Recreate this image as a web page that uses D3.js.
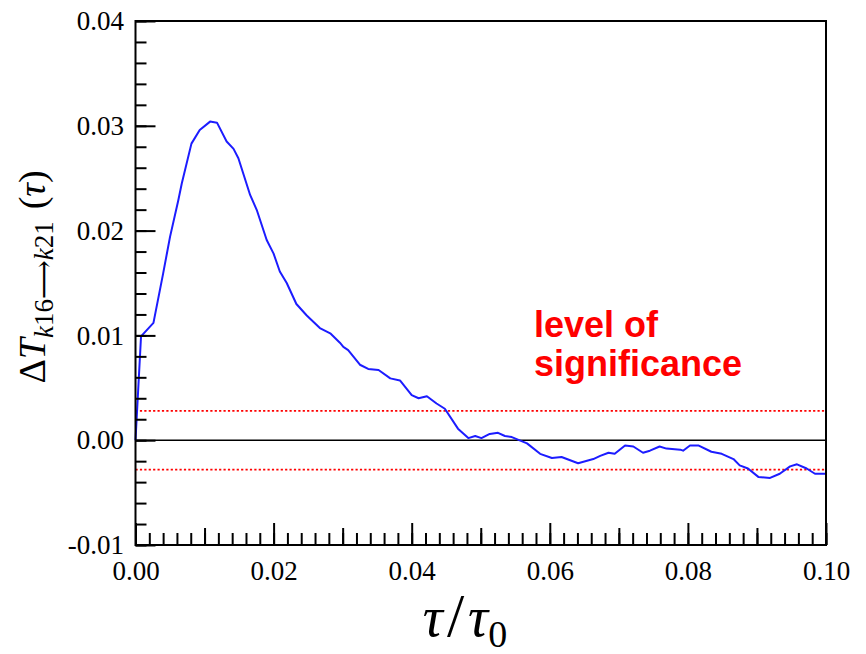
<!DOCTYPE html>
<html>
<head>
<meta charset="utf-8">
<script src="https://cdn.jsdelivr.net/npm/d3@7"></script>
<style>
  html, body { margin: 0; padding: 0; background: #fff; }
  svg { display: block; }
</style>
</head>
<body>
<svg id="chart" width="866" height="654"></svg>
<script>
// Transfer entropy difference vs normalised lag
const tau = [0, 0.0008, 0.0026, 0.0040, 0.0050, 0.0062, 0.0067, 0.0081, 0.0093, 0.0108, 0.0118,
  0.0132, 0.0142, 0.0149, 0.0166, 0.0176, 0.0190, 0.0200, 0.0209, 0.0219, 0.0233, 0.0248,
  0.0267, 0.0282, 0.0296, 0.0301, 0.0308, 0.0325, 0.0337, 0.0352, 0.0369, 0.0383, 0.0400,
  0.0410, 0.0422, 0.0436, 0.0448, 0.0467, 0.0482, 0.0492, 0.0501, 0.0513, 0.0525, 0.0535,
  0.0545, 0.0567, 0.0586, 0.0603, 0.0617, 0.0641, 0.0663, 0.0673, 0.0685, 0.0694, 0.0709,
  0.0721, 0.0735, 0.0745, 0.0759, 0.0769, 0.0789, 0.0793, 0.0803, 0.0815, 0.0834, 0.0849,
  0.0866, 0.0875, 0.0887, 0.0902, 0.0919, 0.0933, 0.0948, 0.0958, 0.0972, 0.0984, 0.1000];
const deltaT = [0, 0.0099, 0.0112, 0.0159, 0.0194, 0.0229, 0.0245, 0.0283, 0.0296, 0.0304, 0.0303,
  0.0285, 0.0278, 0.0269, 0.0234, 0.0219, 0.0191, 0.0178, 0.0161, 0.0150, 0.0130, 0.0119,
  0.0107, 0.0102, 0.0093, 0.0089, 0.0086, 0.0072, 0.0068, 0.0067, 0.0059, 0.0057, 0.0043,
  0.0040, 0.0042, 0.0035, 0.0030, 0.0011, 0.0002, 0.0004, 0.0002, 0.0006, 0.0007, 0.0004,
  0.0003, -0.0003, -0.0013, -0.0017, -0.0016, -0.0022, -0.0018, -0.0015, -0.0012, -0.0013, -0.0005,
  -0.0006, -0.0012, -0.0010, -0.0006, -0.0008, -0.0009, -0.0010, -0.0005, -0.0005, -0.0011, -0.0013,
  -0.0018, -0.0024, -0.0027, -0.0035, -0.0036, -0.0032, -0.0025, -0.0023, -0.0027, -0.0032, -0.0032];

const significance = [0.0028, -0.0028];
const xMajorTicks = [0, 0.02, 0.04, 0.06, 0.08, 0.10];
const yMajorTicks = [-0.01, 0, 0.01, 0.02, 0.03, 0.04];
const noteLines = ["level of", "significance"];

const margin = { left: 135.5, top: 21, right: 40, bottom: 109 };
const W = 866, H = 654;
const svg = d3.select("#chart");

const x = d3.scaleLinear().domain([0, 0.1]).range([margin.left, W - margin.right]);
const y = d3.scaleLinear().domain([-0.01, 0.04]).range([H - margin.bottom, margin.top]);

const tickFont = "'Liberation Serif', 'Times New Roman', serif";
const fmt = d => d3.format(".2f")(d).replace("\u2212", "-");

// zero line
svg.append("line")
  .attr("x1", x(0)).attr("x2", x(0.1))
  .attr("y1", y(0)).attr("y2", y(0))
  .attr("stroke", "#000").attr("stroke-width", 1.6);

// significance thresholds
svg.selectAll("line.sig").data(significance).join("line")
  .attr("class", "sig")
  .attr("x1", x(0)).attr("x2", x(0.1))
  .attr("y1", d => y(d)).attr("y2", d => y(d))
  .attr("stroke", "#ff0000").attr("stroke-width", 1.8)
  .attr("stroke-dasharray", "2.2,2.2");

// data curve
svg.append("path")
  .datum(tau.map((t, i) => [t, deltaT[i]]))
  .attr("fill", "none")
  .attr("stroke", "#1c1cff")
  .attr("stroke-width", 2)
  .attr("stroke-linejoin", "round")
  .attr("d", d3.line().x(d => x(d[0])).y(d => y(d[1])));

// frame
svg.append("rect")
  .attr("x", x(0)).attr("y", y(0.04))
  .attr("width", x(0.1) - x(0)).attr("height", y(-0.01) - y(0.04))
  .attr("fill", "none").attr("stroke", "#000").attr("stroke-width", 2);

// x axis: minor, mid and major ticks pointing inward
const xMinor = d3.range(0, 0.1001, 0.002);
const xMid = [0.01, 0.03, 0.05, 0.07, 0.09];
svg.append("g").attr("transform", `translate(0,${y(-0.01)})`)
  .call(d3.axisBottom(x).tickValues(xMinor).tickSize(-12).tickFormat(""));
svg.append("g").attr("transform", `translate(0,${y(-0.01)})`)
  .call(d3.axisBottom(x).tickValues(xMid).tickSize(-17).tickFormat(""));
const gx = svg.append("g").attr("transform", `translate(0,${y(-0.01)})`)
  .call(d3.axisBottom(x).tickValues(xMajorTicks).tickSize(-22).tickPadding(15.5)
    .tickFormat(fmt));

// y axis
const yMinor = d3.range(-0.01, 0.0401, 0.002);
svg.append("g").attr("transform", `translate(${x(0)},0)`)
  .call(d3.axisLeft(y).tickValues(yMinor).tickSize(-11).tickFormat(""));
const gy = svg.append("g").attr("transform", `translate(${x(0)},0)`)
  .call(d3.axisLeft(y).tickValues(yMajorTicks).tickSize(-20).tickPadding(11.5)
    .tickFormat(fmt));

svg.selectAll(".domain").remove();
svg.selectAll(".tick line").attr("stroke", "#000").attr("stroke-width", 2);
[gx, gy].forEach(g => g.selectAll("text")
  .attr("font-family", tickFont).attr("font-size", 27).attr("fill", "#000"));

// note
const note = svg.append("text")
  .attr("x", 534).attr("y", 337)
  .attr("font-family", "'Liberation Sans', Arial, sans-serif")
  .attr("font-weight", "bold").attr("font-size", 36).attr("fill", "#ff0000");
note.selectAll("tspan").data(noteLines).join("tspan")
  .attr("x", 534).attr("dy", (d, i) => i === 0 ? 0 : 39)
  .text(d => d);

// x label: tau / tau_0
const xl = svg.append("text")
  .attr("x", 465).attr("y", 636)
  .attr("text-anchor", "middle")
  .attr("font-family", tickFont).attr("font-size", 56).attr("fill", "#000");
xl.append("tspan").attr("font-style", "italic").text("τ");
xl.append("tspan").attr("dx", 4).attr("font-size", 62).text("/");
xl.append("tspan").attr("font-style", "italic").attr("dx", 4).text("τ");
xl.append("tspan").attr("font-size", 38).attr("dy", 11).text("0");

// y label: Delta T_{k16 -> k21} (tau)
const yl = svg.append("text")
  .attr("transform", "translate(45,277) rotate(-90)")
  .attr("text-anchor", "middle")
  .attr("font-family", tickFont).attr("font-size", 38).attr("fill", "#000");
yl.append("tspan").text("Δ");
yl.append("tspan").attr("font-style", "italic").text("T");
yl.append("tspan").attr("font-style", "italic").attr("font-size", 27).attr("dy", 8).text("k");
yl.append("tspan").attr("font-size", 27).text("16");
yl.append("tspan").attr("font-size", 27)
  .attr("font-family", "'DejaVu Serif', 'DejaVu Sans', serif").text("⟶");
yl.append("tspan").attr("font-style", "italic").attr("font-size", 27).text("k");
yl.append("tspan").attr("font-size", 27).text("21");
yl.append("tspan").attr("dy", -8).attr("dx", 12).text("(");
yl.append("tspan").attr("font-style", "italic").text("τ");
yl.append("tspan").text(")");
</script>
</body>
</html>
